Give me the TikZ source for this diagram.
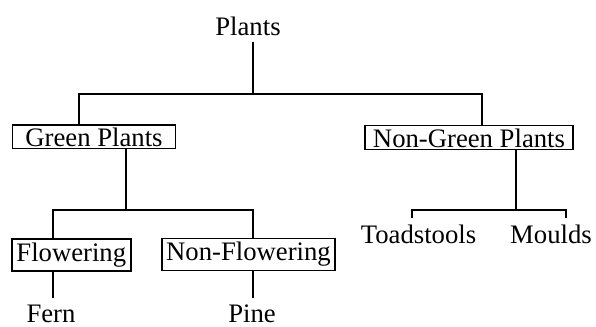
\documentclass[tikz,border=0pt]{standalone}
\usepackage{fontspec}
\setmainfont{Liberation Serif}
\begin{document}
\begin{tikzpicture}[
    x=0.5pt, y=-0.5pt,
    line width=0.7pt,
    every node/.style={font=\fontsize{13.35}{16}\selectfont},
    word/.style={inner sep=3pt, anchor=base},
    topbox/.style={draw, line width=0.8pt, inner sep=0pt, text height=10.85pt, text depth=1pt},
    lowbox/.style={draw, line width=0.8pt, inner sep=0pt, text height=11pt, text depth=5pt}
]
\useasboundingbox (0,0) rectangle (596,327);

\node[word] (plants) at (248,35) {Plants};
\node[topbox, minimum width=81.5pt] (green) at (94,136.8) {Green Plants};
\node[topbox, minimum width=104pt] (ngreen) at (469,137.5) {Non-Green Plants};
\node[lowbox, minimum width=59.5pt] (flow) at (71.3,255) {Flowering};
\node[lowbox, minimum width=86.5pt] (nflow) at (248.5,254.5) {Non-Flowering};
\node[word] (fern) at (51,322) {Fern};
\node[word] (pine) at (252,322) {Pine};
\node[word] (toad) at (418.5,243) {Toadstools};
\node[word] (mould) at (551,243) {Moulds};

\coordinate (j1) at (253,94);
\coordinate (a1) at (79,94);
\coordinate (b1) at (482,94);
\coordinate (j2) at (126,210);
\coordinate (a2) at (53,210);
\coordinate (b2) at (253,210);
\coordinate (j3) at (516,210);
\coordinate (a3) at (412,210);
\coordinate (b3) at (566,210);

\draw (plants.south -| j1) -- (j1);
\draw (a1 |- green.north) -- (a1) -- (b1) -- (b1 |- ngreen.north);

\draw (green.south -| j2) -- (j2);
\draw (a2 |- flow.north) -- (a2) -- (b2) -- (b2 |- nflow.north);
\draw (flow.south -| a2) -- (a2 |- fern.north);
\draw (nflow.south -| b2) -- (b2 |- pine.north);

\draw (ngreen.south -| j3) -- (j3);
\draw (a3 |- toad.north) -- (a3) -- (b3) -- (b3 |- mould.north);

\end{tikzpicture}
\end{document}
